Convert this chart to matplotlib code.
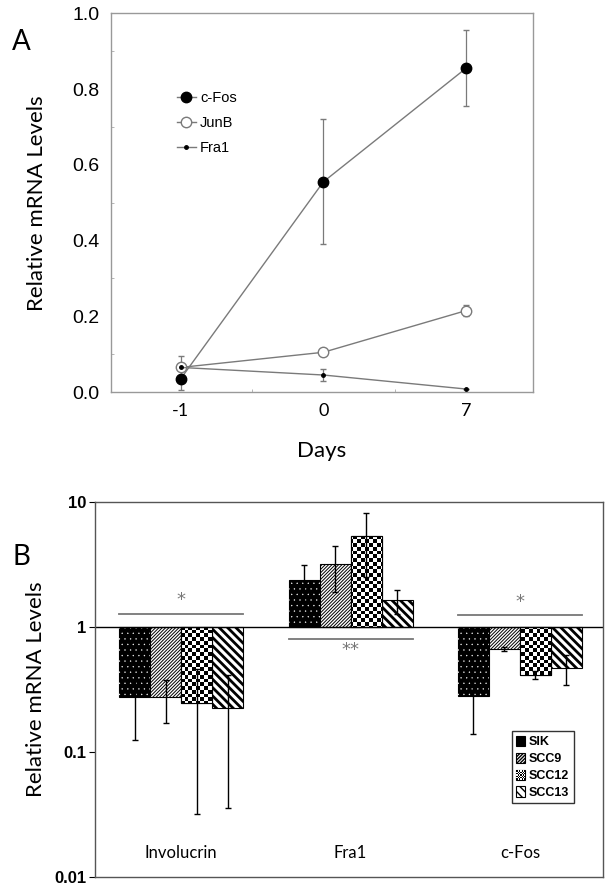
import numpy as np
import matplotlib
matplotlib.use("Agg")
import matplotlib.pyplot as plt

# ---- panel A data ----
days = ["-1", "0", "7"]
cfos = [0.035, 0.555, 0.855]
cfos_err = [0.03, 0.165, 0.10]
junb = [0.065, 0.105, 0.215]
junb_err = [0.03, 0.008, 0.015]
fra1 = [0.065, 0.045, 0.008]
fra1_err = [0.0, 0.015, 0.0]

# ---- panel B data ----
genes = ["Involucrin", "Fra1", "c-Fos"]
lines_b = ["SIK", "SCC9", "SCC12", "SCC13"]
levels = {
    "SIK": [0.274, 2.37, 0.282],
    "SCC9": [0.274, 3.19, 0.670],
    "SCC12": [0.249, 5.33, 0.414],
    "SCC13": [0.227, 1.64, 0.471],
}
levels_err = {
    "SIK": [0.148, 0.76, 0.142],
    "SCC9": [0.102, 1.26, 0.02],
    "SCC12": [0.217, 2.83, 0.03],
    "SCC13": [0.191, 0.36, 0.127],
}
sig_level = [1.28, 0.806, 1.25]
sig_text = ["*", "**", "*"]

narrow = ["Liberation Sans", "DejaVu Sans"]
calib = ["Lato", "DejaVu Sans"]

fig = plt.figure(figsize=(6.12, 8.89), dpi=100)

# ================= Panel A =================
ax = fig.add_axes([0.181, 0.559, 0.690, 0.426])
x = np.arange(len(days))
grey = "#7a7a7a"
series = [
    ("c-Fos", cfos, cfos_err, dict(ms=7.5, mfc="black", mec="black")),
    ("JunB", junb, junb_err, dict(ms=7.5, mfc="white", mec=grey)),
    ("Fra1", fra1, fra1_err, dict(ms=2.5, mfc="black", mec="black")),
]
for name, vals, errs, mk in series:
    ax.errorbar(x, vals, yerr=errs, fmt="none", ecolor=grey, elinewidth=0.9,
                capsize=2, zorder=2)
    ax.plot(x, vals, color=grey, lw=1, marker="o", label=name, zorder=3, **mk)

ax.set_xlim(-0.49, 2.47)
ax.set_ylim(0, 1.0)
ax.set_xticks(x)
ax.set_xticklabels(days, family=calib, fontsize=13)
ax.set_yticks(np.arange(0, 1.01, 0.2))
ax.set_yticklabels(["%.1f" % v for v in np.arange(0, 1.01, 0.2)], family=narrow, fontsize=14)
ax.set_yticks(np.arange(0.1, 1.0, 0.2), minor=True)
ax.set_xticks([0.5, 1.5], minor=True)
ax.tick_params(which="major", length=0, pad=8)
ax.tick_params(which="minor", length=2, direction="in", color="#aaaaaa")
for s in ax.spines.values():
    s.set_color("#999999")
    s.set_linewidth(1)
ax.set_xlabel("Days", family=calib, fontsize=16, labelpad=16)
ax.set_ylabel("Relative mRNA Levels", family=calib, fontsize=16, labelpad=18)

leg = ax.legend(loc="upper left", bbox_to_anchor=(0.125, 0.83), frameon=False,
                handlelength=1.3, handletextpad=0.3, labelspacing=0.75,
                prop={"family": narrow, "size": 10.5})
fig.text(0.02, 0.953, "A", fontsize=20, family=calib, va="center")

# ================= Panel B =================
bx = fig.add_axes([0.155, 0.0135, 0.830, 0.4215])
bx.set_yscale("log")
bx.set_ylim(0.01, 10)
bx.set_xlim(-0.51, 2.49)
gx = np.arange(len(genes))
w = 0.183
offsets = (np.arange(len(lines_b)) - 1.5) * w

checker = np.indices((100, 130)).sum(axis=0) % 2
handles = []
checker_bars = []
for k, name in enumerate(lines_b):
    vals = np.array(levels[name])
    errs = np.array(levels_err[name])
    xs = gx + offsets[k]
    if name == "SIK":
        bars = bx.bar(xs, vals - 1, w, bottom=1, color="black", edgecolor="black",
                      lw=0.8, zorder=2)
        with plt.rc_context({"hatch.linewidth": 0.2}):
            bx.bar(xs, vals - 1, w, bottom=1, fill=False, edgecolor="white",
                   hatch="...", lw=0, zorder=2.1)
    elif name == "SCC9":
        with plt.rc_context({"hatch.linewidth": 0.7}):
            bars = bx.bar(xs, vals - 1, w, bottom=1, color="white", edgecolor="black",
                          hatch="//////////", lw=0.8, zorder=2)
    elif name == "SCC12":
        bars = bx.bar(xs, vals - 1, w, bottom=1, color="white", edgecolor="black",
                      lw=0.8, zorder=2)
        checker_bars.extend(bars)
        bx.bar(xs, vals - 1, w, bottom=1, fill=False, edgecolor="black", lw=0.8, zorder=2.1)
    else:
        with plt.rc_context({"hatch.linewidth": 2.0}):
            bars = bx.bar(xs, vals - 1, w, bottom=1, color="white", edgecolor="black",
                          hatch="\\\\\\\\", lw=0.8, zorder=2)
    handles.append(bars)
    bx.errorbar(xs, vals, yerr=errs, fmt="none", ecolor="black", elinewidth=1,
                capsize=2, capthick=1, zorder=3)

for b in checker_bars:
    im = bx.imshow(checker, cmap="gray_r", vmin=0, vmax=1,
                   extent=(0, 1, 0, 1), transform=bx.transAxes,
                   interpolation="nearest", aspect="auto", zorder=2.05)
    im.set_clip_path(b)
bx.set_xlim(-0.51, 2.49)
bx.set_ylim(0.01, 10)

bx.axhline(1, color="black", lw=1, zorder=2.5)
for i in range(len(genes)):
    bx.plot([gx[i] + offsets[0] - w / 2, gx[i] + offsets[-1] + w / 2],
            [sig_level[i], sig_level[i]], color="#777777", lw=1.3)
    up = sig_level[i] > 1
    yt = sig_level[i] * (1.28 if up else 0.82)
    bx.text(gx[i], yt, sig_text[i], ha="center", va="center", color="#777777",
            fontsize=13)
    bx.text(gx[i], 0.0155, genes[i], ha="center", va="center", family=calib,
            fontsize=12)

bx.set_xticks([])
bx.set_yticks([0.01, 0.1, 1, 10])
bx.set_yticklabels(["0.01", "0.1", "1", "10"], family=narrow, fontweight="bold",
                   fontsize=12)
bx.yaxis.set_minor_locator(matplotlib.ticker.NullLocator())
bx.tick_params(axis="y", length=4, pad=2)
for s in bx.spines.values():
    s.set_color("#555555")
    s.set_linewidth(1)
bx.set_ylabel("Relative mRNA Levels", family=calib, fontsize=16, labelpad=6)

lg = bx.legend(handles, lines_b, loc="lower right", bbox_to_anchor=(0.955, 0.18),
               frameon=True, fancybox=False, edgecolor="black", handlelength=0.7,
               handleheight=0.9, handletextpad=0.3, labelspacing=0.35,
               borderpad=0.35, prop={"family": narrow, "weight": "bold", "size": 9})
lg.get_frame().set_linewidth(1)
lg.set_zorder(5)
# checker texture for the SCC12 legend key
key = lg.get_patches()[2]
small_checker = np.indices((300, 390)).sum(axis=0) % 2
kim = bx.imshow(small_checker, cmap="gray_r", vmin=0, vmax=1, extent=(0, 1, 0, 1),
                transform=bx.transAxes, interpolation="nearest", aspect="auto",
                zorder=6)
kim.set_clip_path(key)
bx.set_xlim(-0.51, 2.49)
bx.set_ylim(0.01, 10)
fig.text(0.02, 0.373, "B", fontsize=20, family=calib, va="center")

fig.savefig("out.png", dpi=100)
